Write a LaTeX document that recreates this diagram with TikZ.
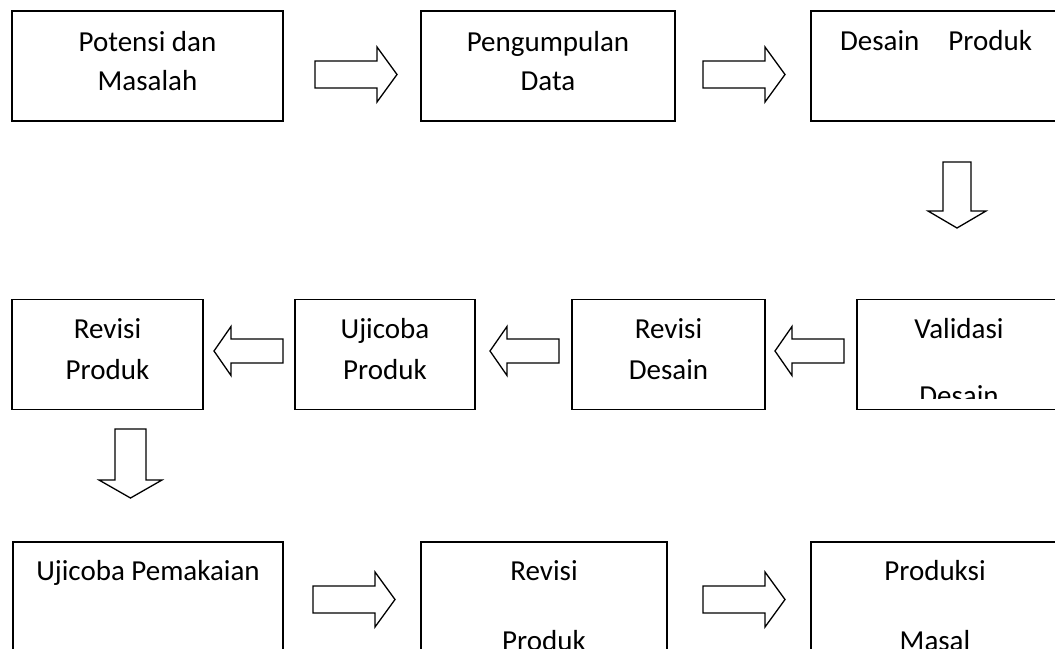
\documentclass[tikz,border=0pt]{standalone}
\usepackage{fontspec}
\setmainfont{Carlito}
\begin{document}
\begin{tikzpicture}[x=1pt,y=-1pt,
  box/.style={draw,line width=1.4pt,inner sep=0pt,rectangle},
  lbl/.style={anchor=base,inner sep=0pt,font=\fontsize{29}{39}\selectfont},
  blk/.style={draw,line width=1.3pt,line join=miter},
  rblk/.pic={\draw[blk] (0,-13.5) -- (62,-13.5) -- (62,-27.5) -- (82,0) -- (62,27.5) -- (62,13.5) -- (0,13.5) -- cycle;},
  lblk/.pic={\draw[blk] (0,-12) -- (-52,-12) -- (-52,-24.5) -- (-69,0) -- (-52,24.5) -- (-52,12) -- (0,12) -- cycle;}]
\useasboundingbox (0,0) rectangle (1055,648);
\clip (0,0) rectangle (1055,648);
% row 1 boxes
\node[box,minimum width=271pt,minimum height=110pt] (b1) at (147.5,66) {};
\node[box,minimum width=254pt,minimum height=110pt] (b2) at (548,66) {};
\node[box,minimum width=252pt,minimum height=110pt] (b3) at (937,66) {};
% row 2 boxes
\node[box,minimum width=191pt,minimum height=110pt] (r1) at (107.5,354.5) {};
\node[box,minimum width=180pt,minimum height=110pt] (r2) at (385,354.5) {};
\node[box,minimum width=193pt,minimum height=110pt] (r3) at (668.5,354.5) {};
\node[box,minimum width=204pt,minimum height=110pt] (r4) at (959,354.5) {};
% row 3 boxes
\node[box,minimum width=270pt,minimum height=138pt] (c1) at (148,611) {};
\node[box,minimum width=246pt,minimum height=138pt] (c2) at (544,611) {};
\node[box,minimum width=248pt,minimum height=138pt] (c3) at (935,611) {};
% texts
\node[lbl] (t1a) at (147.5,51.7) {Potensi dan};
\node[lbl] (t1b) at (147.5,90) {Masalah};
\node[lbl] (t2a) at (548,51.7) {Pengumpulan};
\node[lbl] (t2b) at (548,90) {Data};
\node[lbl] (t3) at (936,50) {Desain\hspace{29pt}Produk};
\node[lbl] (u1a) at (107.5,338) {Revisi};
\node[lbl] (u1b) at (107.5,379) {Produk};
\node[lbl] (u2a) at (385,338) {Ujicoba};
\node[lbl] (u2b) at (385,379) {Produk};
\node[lbl] (u3a) at (668.5,338) {Revisi};
\node[lbl] (u3b) at (668.5,379) {Desain};
\node[lbl] (u4a) at (959,338) {Validasi};
\begin{scope}
  \clip (857,300) rectangle (1061,398);
  \node[lbl] (u4b) at (959,405) {Desain};
\end{scope}
\node[lbl] (v1) at (148,580) {Ujicoba Pemakaian};
\node[lbl] (v2a) at (544,580) {Revisi};
\node[lbl] (v2b) at (544,650) {Produk};
\node[lbl] (v3a) at (935,580) {Produksi};
\node[lbl] (v3b) at (935,650) {Masal};
% block arrows
\coordinate (a1) at (315,74.5);
\coordinate (a2) at (703,74.5);
\coordinate (a3) at (283,351);
\coordinate (a4) at (559,351);
\coordinate (a5) at (844,351);
\coordinate (a6) at (313,599.5);
\coordinate (a7) at (703,599.5);
\pic at (a1) {rblk};
\pic at (a2) {rblk};
\pic at (a3) {lblk};
\pic at (a4) {lblk};
\pic at (a5) {lblk};
\pic at (a6) {rblk};
\pic at (a7) {rblk};
\coordinate (d1) at (957,162);
\coordinate (d2) at (130.5,429);
\draw[blk] ([xshift=-14pt]d1) -- ++(0,49) -- ++(-15,0) -- ++(29,17) -- ++(29,-17) -- ++(-15,0) -- ++(0,-49) -- cycle;
\draw[blk] ([xshift=-15.5pt]d2) -- ++(0,51) -- ++(-16,0) -- ++(31.5,18) -- ++(31.5,-18) -- ++(-16,0) -- ++(0,-51) -- cycle;
\end{tikzpicture}
\end{document}
